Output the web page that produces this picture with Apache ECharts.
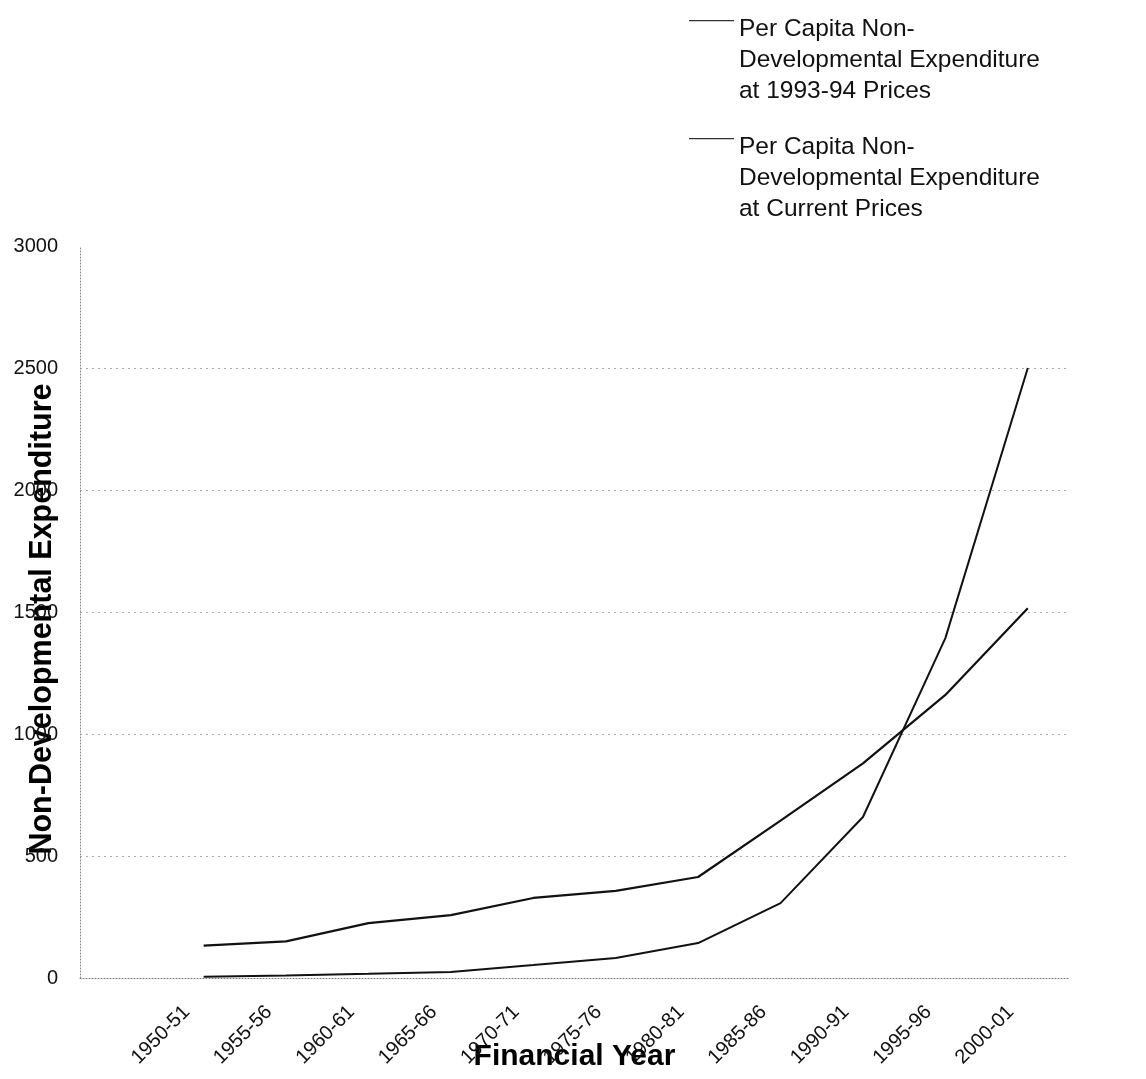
<!DOCTYPE html>
<html>
<head>
<meta charset="utf-8">
<script src="https://cdn.jsdelivr.net/npm/echarts@6/dist/echarts.min.js"></script>
<style>
  html, body { margin: 0; padding: 0; background: #fff; }
  #chart { width: 1146px; height: 1079px; }
</style>
</head>
<body>
<div id="chart"></div>
<script>
// Financial years (leading blank slot keeps the first year off the axis)
const years = ['', '1950-51', '1955-56', '1960-61', '1965-66', '1970-71', '1975-76',
               '1980-81', '1985-86', '1990-91', '1995-96', '2000-01'];

// Per capita non-developmental expenditure (Rs.)
const at199394Prices = [null, 133, 150, 225, 258, 328, 357, 414, 645, 880, 1160, 1515];
const atCurrentPrices = [null, 5, 10, 17, 25, 53, 82, 143, 307, 660, 1393, 2500];

const seriesNames = [
  'Per Capita Non-\nDevelopmental Expenditure\nat 1993-94 Prices',
  'Per Capita Non-\nDevelopmental Expenditure\nat Current Prices'
];

const yTicks = { min: 0, max: 3000, step: 500 };

const FONT = "'Liberation Sans', Arial, sans-serif";
// legend sample: a thin stroke near the top of a tall icon box
const legendIcon = 'path://M0,6H45V7.2H0Z M0,0H0.01V0.01H0Z M0,93H0.01V93.01H0Z';

const chart = echarts.init(document.getElementById('chart'));
chart.setOption({
  animation: false,
  backgroundColor: '#fff',
  textStyle: { fontFamily: FONT },
  grid: { left: 80, right: 77, top: 246, bottom: 101, containLabel: false, outerBoundsMode: 'none' },
  legend: {
    orient: 'vertical',
    left: 684,
    top: 9,
    itemWidth: 45,
    itemHeight: 93,
    itemGap: 25,
    icon: legendIcon,
    itemStyle: { color: '#333' },
    textStyle: { fontFamily: FONT, fontSize: 24.5, color: '#111', lineHeight: 31 },
    data: seriesNames
  },
  xAxis: {
    type: 'category',
    data: years,
    boundaryGap: true,
    name: 'Financial Year',
    nameLocation: 'middle',
    nameGap: 64,
    nameMoveOverlap: false,
    nameTextStyle: { fontFamily: FONT, fontSize: 30, fontWeight: 'bold', color: '#000' },
    axisLine: { show: true, lineStyle: { color: '#777', type: [1, 2], width: 1 } },
    axisTick: { show: false },
    axisLabel: {
      interval: 0,
      rotate: 45,
      margin: 14,
      padding: [0, 24, 0, 0],
      fontSize: 20,
      color: '#111',
      fontFamily: FONT
    },
    splitLine: { show: false }
  },
  yAxis: {
    type: 'value',
    min: yTicks.min,
    max: yTicks.max,
    interval: yTicks.step,
    name: 'Non-Developmental Expenditure',
    nameLocation: 'middle',
    nameGap: 22,
    nameMoveOverlap: false,
    nameTextStyle: {
      fontFamily: FONT, fontSize: 30.5, fontWeight: 'bold', color: '#000',
      padding: [0, 14, 0, 0]
    },
    axisLine: { show: true, lineStyle: { color: '#888', type: [1, 2], width: 1 } },
    axisTick: { show: false },
    axisLabel: {
      margin: 22, fontSize: 20, color: '#111', fontFamily: FONT,
      formatter: v => String(v)
    },
    splitLine: {
      show: true,
      lineStyle: {
        color: ['rgba(0,0,0,0)', '#aaa', '#aaa', '#aaa', '#aaa', '#aaa', 'rgba(0,0,0,0)'],
        type: [2, 4],
        width: 1
      }
    }
  },
  series: [
    {
      name: seriesNames[0],
      type: 'line',
      data: at199394Prices,
      showSymbol: false,
      symbol: 'none',
      color: '#111',
      lineStyle: { color: '#111', width: 2.2 }
    },
    {
      name: seriesNames[1],
      type: 'line',
      data: atCurrentPrices,
      showSymbol: false,
      symbol: 'none',
      color: '#111',
      lineStyle: { color: '#111', width: 2 }
    }
  ]
});
</script>
</body>
</html>
